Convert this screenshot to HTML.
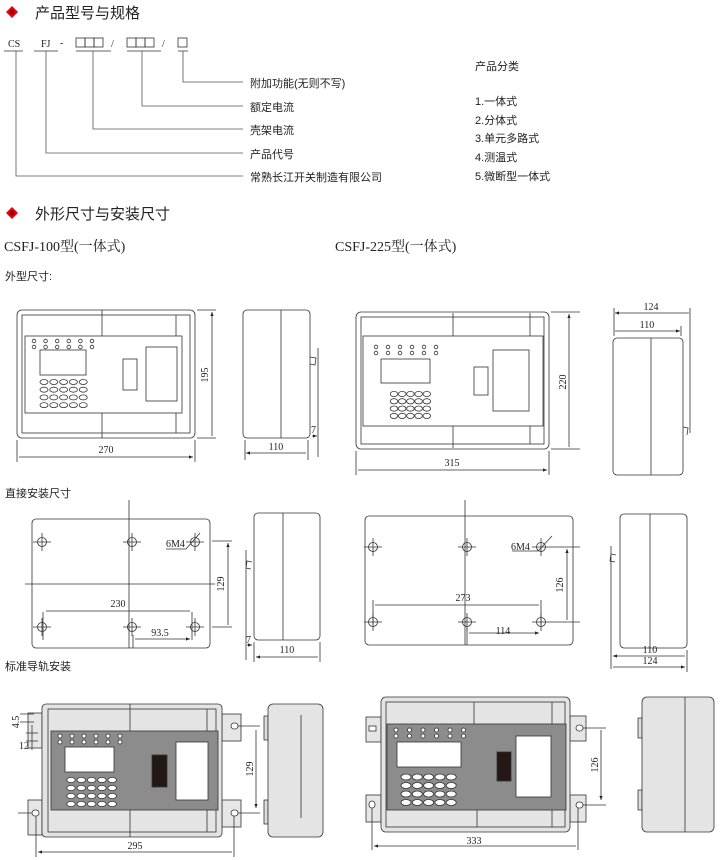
<!DOCTYPE html>
<html><head><meta charset="utf-8"><style>
body{margin:0;background:#fff;width:720px;height:860px;overflow:hidden}
svg{display:block}
.c{font-family:"Liberation Sans","Noto Sans CJK SC",sans-serif;fill:#222}
.n{font-family:"Liberation Serif",serif;fill:#222;font-size:10px}
</style></head><body>
<svg id="s" width="720" height="860" viewBox="0 0 720 860" stroke="#333" fill="none" stroke-width="0.8">
<defs><marker id="a" markerWidth="6" markerHeight="6" refX="5" refY="3" orient="auto-start-reverse"><path d="M0,1 L5,3 L0,5z" fill="#222" stroke="none"/></marker></defs>
<!-- header 1 -->
<path d="M12,6 L18,12 L12,18 L6,12z" fill="#e60012" stroke="none"/><circle cx="12" cy="12" r="2.5" fill="#900" stroke="none"/>
<text x="35" y="18" class="c" font-size="15" stroke="none">产品型号与规格</text>
<g stroke="none" class="n" font-size="11"><text x="8" y="47" class="n" font-size="11">CS</text><text x="41" y="47" class="n" font-size="11">FJ</text><text x="60" y="46" class="n" font-size="10">-</text><text x="111" y="47" class="n" font-size="11">/</text><text x="162" y="47" class="n" font-size="11">/</text></g>
<rect x="76" y="38" width="9" height="9"/><rect x="85" y="38" width="9" height="9"/><rect x="94" y="38" width="9" height="9"/>
<rect x="127" y="38" width="9" height="9"/><rect x="136" y="38" width="9" height="9"/><rect x="145" y="38" width="9" height="9"/>
<rect x="178" y="38" width="9" height="9"/>
<path d="M4,51H23M34,51H58M76,51H111M127,51H161M178,51H188"/>
<path d="M183,51V82H243M142,51V106H243M93,51V129H243M46,51V153H243M16,51V176H243" stroke="#555"/>
<g class="c" font-size="11" stroke="none">
<text x="250" y="87">附加功能(无则不写)</text><text x="250" y="111">额定电流</text><text x="250" y="134">壳架电流</text><text x="250" y="158">产品代号</text><text x="250" y="181">常熟长江开关制造有限公司</text>
<text x="475" y="70">产品分类</text><text x="475" y="105">1.一体式</text><text x="475" y="124">2.分体式</text><text x="475" y="142">3.单元多路式</text><text x="475" y="161">4.测温式</text><text x="475" y="180">5.微断型一体式</text>
</g>
<!-- header 2 -->
<path d="M12,207 L18,213 L12,219 L6,213z" fill="#e60012" stroke="none"/><circle cx="12" cy="213" r="2.5" fill="#900" stroke="none"/>
<text x="35" y="219" class="c" font-size="15" stroke="none">外形尺寸与安装尺寸</text>
<g stroke="none"><text x="4" y="251" class="c" font-size="14" fill="#555" style="font-family:'Liberation Serif','Noto Serif CJK SC',serif">CSFJ-100型(一体式)</text>
<text x="335" y="251" class="c" font-size="14" style="font-family:'Liberation Serif','Noto Serif CJK SC',serif">CSFJ-225型(一体式)</text>
<text x="5" y="280" class="c" font-size="11">外型尺寸:</text>
<text x="5" y="497" class="c" font-size="11">直接安装尺寸</text>
<text x="5" y="670" class="c" font-size="11">标准导轨安装</text></g>

<!-- front 100 -->
<rect x="17" y="310" width="178" height="128" rx="5"/><rect x="22" y="315" width="168" height="118"/>
<path d="M102,310V438M176,315V433"/>
<rect x="25" y="336" width="157" height="77" fill="#fff"/>
<rect x="40" y="350" width="46" height="25"/><rect x="123" y="359" width="14" height="31"/><rect x="146" y="347" width="31" height="54"/>
<g id="g1"></g>
<path d="M197,310H216M197,438H216M17,440V462M195,440V462"/>
<path d="M212,312V436M19,457H193" marker-start="url(#a)" marker-end="url(#a)"/>
<text class="n" stroke="none" transform="translate(208,375) rotate(-90)" text-anchor="middle">195</text>
<text class="n" stroke="none" x="106" y="453" text-anchor="middle">270</text>
<!-- side 100 -->
<rect x="243" y="310" width="67" height="128" rx="4"/><path d="M281,310V438M318,348V457M310,357l6,1l-1,7l-5,-1"/>
<path d="M245,440V460M308,440V460"/>
<path d="M246,453H306M312,436H317" marker-start="url(#a)" marker-end="url(#a)"/>
<text class="n" stroke="none" x="276" y="450" text-anchor="middle">110</text><text class="n" stroke="none" x="311" y="433">7</text>

<!-- front 225 -->
<rect x="356" y="312" width="193" height="137" rx="5"/><rect x="361" y="317" width="183" height="127"/>
<path d="M453,313V337M530,313V337M453,426V448M530,426V444"/>
<rect x="363" y="336" width="180" height="90" fill="#fff"/>
<rect x="381" y="359" width="49" height="24"/><rect x="474" y="367" width="14" height="28"/><rect x="493" y="350" width="36" height="61"/>
<g id="g2"></g>
<path d="M551,312H580M551,449H580M356,451V475M549,451V475"/>
<path d="M569,314V447M358,470H547" marker-start="url(#a)" marker-end="url(#a)"/>
<text class="n" stroke="none" transform="translate(566,382) rotate(-90)" text-anchor="middle">220</text>
<text class="n" stroke="none" x="452" y="466" text-anchor="middle">315</text>
<!-- side 225 -->
<rect x="613" y="338" width="70" height="137" rx="4"/><path d="M651,338V475M614,308V336M690,308V433M681,326V336M683,427l5,1l-1,7"/>
<path d="M615,313H689M615,331H680" marker-start="url(#a)" marker-end="url(#a)"/>
<text class="n" stroke="none" x="651" y="310" text-anchor="middle">124</text><text class="n" stroke="none" x="647" y="328" text-anchor="middle">110</text>

<!-- mount 100 -->
<rect x="32" y="519" width="178" height="129" rx="4"/>
<path d="M129,500V648M25,584H215"/>
<g id="h1"></g>
<path d="M212,541H232M212,627H232M43,612V640M192,612V640M133,635V648"/>
<path d="M228,543V625M46,611H190M135,639H190" marker-start="url(#a)" marker-end="url(#a)"/>
<path d="M200,533L186,549H166"/>
<text class="n" stroke="none" x="166" y="547">6M4</text>
<text class="n" stroke="none" transform="translate(224,584) rotate(-90)" text-anchor="middle">129</text>
<text class="n" stroke="none" x="118" y="607" text-anchor="middle">230</text>
<text class="n" stroke="none" x="160" y="636" text-anchor="middle">93.5</text>
<!-- side mount 100 -->
<rect x="254" y="513" width="66" height="127" rx="4"/><path d="M283,513V640M246,550V660M252,562l-5,-1l-1,7l5,1M254,642V662M320,642V662"/>
<path d="M256,657H318M247,645H252" marker-start="url(#a)" marker-end="url(#a)"/>
<text class="n" stroke="none" x="287" y="653" text-anchor="middle">110</text><text class="n" stroke="none" x="246" y="643">7</text>

<!-- mount 225 -->
<rect x="365" y="516" width="208" height="129" rx="4"/>
<path d="M465,500V645"/>
<g id="h2"></g>
<path d="M550,547H580M550,622H580M373,600V625M541,600V625M467,628V645"/>
<path d="M567,549V620M375,605H539M469,633H539" marker-start="url(#a)" marker-end="url(#a)"/>
<path d="M552,536L538,551H512"/>
<text class="n" stroke="none" x="511" y="550">6M4</text>
<text class="n" stroke="none" transform="translate(563,585) rotate(-90)" text-anchor="middle">126</text>
<text class="n" stroke="none" x="463" y="601" text-anchor="middle">273</text>
<text class="n" stroke="none" x="503" y="634" text-anchor="middle">114</text>
<!-- side mount 225 -->
<rect x="620" y="514" width="67" height="134" rx="4"/><path d="M650,514V648M611,546V669M616,555l-5,-1l-1,7l5,1M687,650V672"/>
<path d="M613,656H685M613,667H685" marker-start="url(#a)" marker-end="url(#a)"/>
<text class="n" stroke="none" x="650" y="653" text-anchor="middle">110</text><text class="n" stroke="none" x="650" y="664" text-anchor="middle">124</text>

<!-- rail 100 -->
<rect x="28" y="713" width="14" height="35" fill="#e6e6e6"/><rect x="28" y="800" width="14" height="35" fill="#e6e6e6"/>
<rect x="222" y="714" width="19" height="27" fill="#e6e6e6"/><rect x="222" y="800" width="19" height="27" fill="#e6e6e6"/>
<rect x="42" y="704" width="180" height="133" rx="4" fill="#e4e4e4"/><rect x="48" y="709" width="168" height="123"/>
<path d="M130,704V837M207,709V832"/>
<rect x="51" y="731" width="167" height="79" fill="#8c8c8c"/>
<rect x="65" y="747" width="49" height="25" fill="#fff"/><rect x="152" y="755" width="15" height="32" fill="#231815"/><rect x="176" y="742" width="32" height="58" fill="#fff"/>
<g id="g3"></g>
<rect x="32" y="810" width="7" height="6" rx="3" fill="#fff"/><rect x="231" y="723" width="7" height="6" rx="3" fill="#fff"/><rect x="231" y="810" width="7" height="6" rx="3" fill="#fff"/>
<path d="M18,813H32M238,726H260M238,813H260M36,816V857M234,816V857M20,714H34M20,722H34M26,733H38M26,741H38M32,725V750"/>
<path d="M38,852H232M256,730V808" marker-start="url(#a)" marker-end="url(#a)"/>
<text class="n" stroke="none" x="135" y="849" text-anchor="middle">295</text>
<text class="n" stroke="none" transform="translate(253,769) rotate(-90)" text-anchor="middle">129</text>
<text class="n" stroke="none" font-size="7" transform="translate(19,722) rotate(-90)" text-anchor="middle">4.5</text>
<text class="n" stroke="none" font-size="7" x="19" y="749">12</text>
<!-- rail side 100 -->
<rect x="264" y="716" width="4" height="24" fill="#ddd"/><rect x="264" y="800" width="4" height="24" fill="#ddd"/>
<rect x="268" y="704" width="55" height="133" rx="5" fill="#e4e4e4"/><path d="M301,715V818"/>
<!-- rail 225 -->
<rect x="366" y="717" width="15" height="25" fill="#e6e6e6"/><rect x="366" y="795" width="15" height="27" fill="#e6e6e6"/>
<rect x="570" y="716" width="16" height="25" fill="#e6e6e6"/><rect x="570" y="795" width="16" height="27" fill="#e6e6e6"/>
<rect x="381" y="697" width="189" height="135" rx="5" fill="#e4e4e4"/><rect x="386" y="702" width="179" height="125"/>
<path d="M474,702V724M552,702V724M477,810V827M552,810V827"/>
<rect x="387" y="724" width="179" height="86" fill="#8c8c8c"/>
<rect x="397" y="742" width="64" height="25" fill="#fff"/><rect x="497" y="752" width="14" height="29" fill="#231815"/><rect x="516" y="736" width="35" height="61" fill="#fff"/>
<g id="g4"></g>
<rect x="369" y="726" width="7" height="5" fill="#fff"/><rect x="369" y="801" width="6" height="7" rx="3" fill="#fff"/><rect x="576" y="725" width="7" height="6" rx="3" fill="#fff"/><rect x="576" y="802" width="7" height="6" rx="3" fill="#fff"/>
<path d="M372,808V850M578,808V850M583,728H606M583,805H606"/>
<path d="M374,846H576M601,730V800" marker-start="url(#a)" marker-end="url(#a)"/>
<text class="n" stroke="none" x="474" y="844" text-anchor="middle">333</text>
<text class="n" stroke="none" transform="translate(598,765) rotate(-90)" text-anchor="middle">126</text>
<!-- rail side 225 -->
<rect x="638" y="718" width="4" height="20" fill="#ddd"/><rect x="638" y="790" width="4" height="20" fill="#ddd"/>
<rect x="642" y="697" width="72" height="135" rx="5" fill="#e4e4e4"/><path d="M685,697V832"/>
</svg>
<script>
var NS="http://www.w3.org/2000/svg";
function el(p,t,a){var e=document.createElementNS(NS,t);for(var k in a)e.setAttribute(k,a[k]);document.getElementById(p).appendChild(e);}
function panel(id,lx0,ldx,ly,bx0,bdx,by0,bdy,rx,ry,fill,lr){
 for(var i=0;i<6;i++){el(id,"circle",{cx:lx0+i*ldx,cy:ly,r:lr,fill:fill});el(id,"circle",{cx:lx0+i*ldx,cy:ly+6,r:lr,fill:fill});}
 for(var r=0;r<4;r++)for(var c=0;c<5;c++)el(id,"ellipse",{cx:bx0+c*bdx,cy:by0+r*bdy,rx:rx,ry:ry,fill:fill});}
panel("g1",34,11.6,341,44,9.8,382,7.7,4,2.5,"#fff",1.8);
panel("g2",376,12,347,394,8.2,394,7.3,3.8,2.6,"#fff",1.8);
panel("g3",60,12,736,71,10.3,780,8,4.3,2.6,"#fff",2);
panel("g4",396,13.5,730,406,11.3,777,8.5,5,3,"#fff",2);
function holes(id,xs,ys){xs.forEach(function(x){ys.forEach(function(y){el(id,"circle",{cx:x,cy:y,r:4.5});el(id,"path",{d:"M"+(x-9)+","+y+"H"+(x+9)+"M"+x+","+(y-9)+"V"+(y+9)});});});}
holes("h1",[42,132,195],[542,627]);
holes("h2",[373,467,541],[547,622]);
</script>
</body></html>
